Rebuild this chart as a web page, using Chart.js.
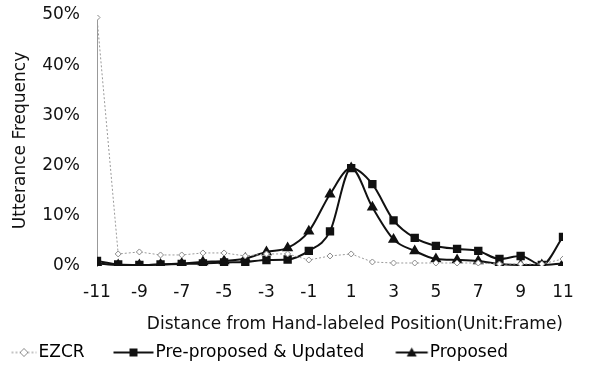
<!DOCTYPE html>
<html>
<head>
<meta charset="utf-8">
<script src="https://cdn.jsdelivr.net/npm/chart.js@4/dist/chart.umd.min.js"></script>
<style>
  html, body { margin: 0; padding: 0; background: #fff; }
  #wrap { width: 590px; height: 366px; }
</style>
</head>
<body>
<div id="wrap"><canvas id="chart" width="590" height="366"></canvas></div>
<script>
// distance from hand-labeled position (frames)
const distances = [-11, -10, -9, -8, -7, -6, -5, -4, -3, -2, -1, 0, 1, 2, 3, 4, 5, 6, 7, 8, 9, 10, 11];

// utterance frequency (%)
const ezcr = [49.5, 2.4, 2.8, 2.2, 2.2, 2.6, 2.6, 2.0, 2.4, 2.4, 1.2, 2.0, 2.4, 0.8, 0.6, 0.6, 0.6, 0.6, 0.6, 0.4, 0.4, 0.4, 1.4];
const preProposed = [1.0, 0.3, 0.2, 0.3, 0.4, 0.5, 0.7, 0.8, 1.2, 1.3, 3.0, 6.9, 19.5, 16.3, 9.1, 5.6, 4.0, 3.4, 3.0, 1.4, 2.0, 0.2, 5.8];
const proposed = [0.5, 0.2, 0.2, 0.3, 0.5, 0.8, 1.0, 1.5, 2.8, 3.6, 6.9, 14.3, 19.5, 11.7, 5.3, 3.0, 1.4, 1.2, 1.0, 0.4, 0.2, 0.2, 0.5];

const yTicks = [0, 10, 20, 30, 40, 50];

const FONT = 'DejaVu Sans, Verdana, sans-serif';
const INK = '#111';

function toPoints(values) {
    return distances.map((d, i) => ({ x: d, y: values[i] }));
}

// legend glyph: a short line with the series marker, drawn at the right end
// of a wider transparent canvas so it sits just before the label text
function legendGlyph(len, marker) {
    const c = document.createElement('canvas');
    c.width = 60;
    c.height = 14;
    const g = c.getContext('2d');
    const x1 = 49.5, x0 = x1 - len, mid = (x0 + x1) / 2;
    g.beginPath();
    g.moveTo(x0, 7);
    g.lineTo(x1, 7);
    if (marker === 'diamond') {
        g.strokeStyle = '#8a8a8a';
        g.lineWidth = 1;
        g.setLineDash([2, 2]);
        g.stroke();
        g.setLineDash([]);
        g.fillStyle = '#fff';
        g.beginPath();
        g.moveTo(mid, 3);
        g.lineTo(mid + 4, 7);
        g.lineTo(mid, 11);
        g.lineTo(mid - 4, 7);
        g.closePath();
        g.fill();
        g.stroke();
        return c;
    }
    g.strokeStyle = INK;
    g.fillStyle = INK;
    g.lineWidth = 2;
    g.stroke();
    g.beginPath();
    if (marker === 'square') {
        g.rect(mid - 4, 3, 8, 8);
    } else {
        g.moveTo(mid, 2);
        g.lineTo(mid + 5, 11);
        g.lineTo(mid - 5, 11);
        g.closePath();
    }
    g.fill();
    return c;
}

const glyphs = [
    legendGlyph(25, 'diamond'),
    legendGlyph(40, 'square'),
    legendGlyph(32, 'triangle')
];
// trailing spaces widen the gap between legend entries
const legendGaps = ['      ', '     ', ''];

new Chart(document.getElementById('chart'), {
    type: 'line',
    data: {
        datasets: [{
            label: 'EZCR',
            data: toPoints(ezcr),
            borderColor: '#9a9a9a',
            borderWidth: 1,
            borderDash: [2, 2],
            pointStyle: 'rectRot',
            pointRadius: 3,
            pointBorderColor: '#8a8a8a',
            pointBackgroundColor: '#fff',
            pointBorderWidth: 1,
            tension: 0
        }, {
            label: 'Pre-proposed & Updated',
            data: toPoints(preProposed),
            borderColor: INK,
            borderWidth: 2,
            pointStyle: 'rect',
            pointRadius: 4.5,
            pointBackgroundColor: INK,
            pointBorderColor: INK,
            cubicInterpolationMode: 'monotone'
        }, {
            label: 'Proposed',
            data: toPoints(proposed),
            borderColor: INK,
            borderWidth: 2,
            pointStyle: 'triangle',
            pointRadius: 4.5,
            pointBackgroundColor: INK,
            pointBorderColor: INK,
            cubicInterpolationMode: 'monotone'
        }]
    },
    options: {
        responsive: false,
        animation: false,
        layout: { padding: { top: 15, right: 27, left: 0, bottom: -5 } },
        plugins: {
            tooltip: { enabled: false },
            legend: {
                position: 'bottom',
                align: 'start',
                labels: {
                    usePointStyle: true,
                    pointStyleWidth: 26,
                    boxHeight: 14,
                    padding: 4,
                    color: INK,
                    font: { family: FONT, size: 17 },
                    generateLabels: chart => chart.data.datasets.map((ds, i) => ({
                        text: ds.label + legendGaps[i],
                        pointStyle: glyphs[i],
                        fillStyle: 'transparent',
                        strokeStyle: 'transparent',
                        lineWidth: 0,
                        datasetIndex: i,
                        hidden: false
                    }))
                }
            }
        },
        scales: {
            x: {
                type: 'linear',
                min: -11,
                max: 11,
                afterFit: scale => {
                    scale.height = 74;
                    scale.paddingLeft = 0;
                    scale.paddingRight = 0;
                },
                grid: { display: false, drawTicks: false },
                border: { display: false },
                ticks: {
                    stepSize: 2,
                    color: INK,
                    padding: 16,
                    font: { family: FONT, size: 17 }
                },
                title: {
                    display: true,
                    text: 'Distance from Hand-labeled Position(Unit:Frame)',
                    align: 'end',
                    color: INK,
                    font: { family: FONT, size: 17 },
                    padding: { top: 4, bottom: 5 }
                }
            },
            y: {
                min: 0,
                max: 50,
                afterBuildTicks: scale => {
                    scale.ticks = yTicks.map(v => ({ value: v }));
                },
                afterFit: scale => {
                    scale.width = 97;
                    scale.paddingTop = 0;
                    scale.paddingBottom = 0;
                },
                grid: { display: false, drawTicks: false },
                border: { display: true, color: '#999', width: 1, dash: [2, 2] },
                ticks: {
                    color: INK,
                    padding: 17,
                    font: { family: FONT, size: 17 },
                    callback: v => v + '%'
                },
                title: {
                    display: true,
                    text: 'Utterance Frequency',
                    color: INK,
                    font: { family: FONT, size: 17 },
                    padding: { top: 10, bottom: 0 }
                }
            }
        }
    }
});
</script>
</body>
</html>
